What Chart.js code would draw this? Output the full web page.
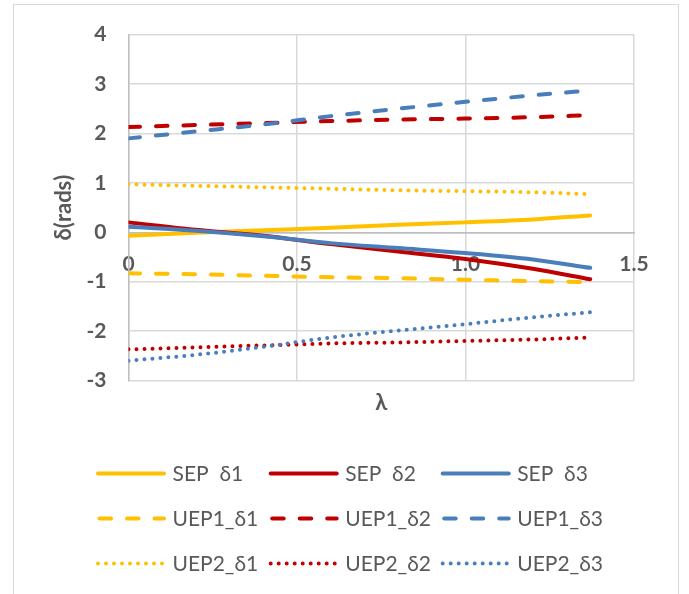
<!DOCTYPE html>
<html>
<head>
<meta charset="utf-8">
<script src="https://cdn.jsdelivr.net/npm/chart.js@4/dist/chart.umd.min.js"></script>
<style>
html,body{margin:0;padding:0;background:#fff;}
#wrap{position:relative;width:689px;height:594px;}
</style>
</head>
<body>
<div id="wrap"><canvas id="c" width="689" height="594"></canvas></div>
<script>
// ---- data ----
const lambdaValues = [0, 0.2, 0.4, 0.6, 0.8, 1.0, 1.2, 1.37];
const sepD1  = [-0.07, -0.01, 0.04, 0.09, 0.15, 0.20, 0.26, 0.34];
const sepD2  = [0.20, 0.05, -0.07, -0.24, -0.39, -0.54, -0.74, -0.95];
const sepD3  = [0.11, 0.03, -0.08, -0.22, -0.32, -0.42, -0.55, -0.72];
const uep1D1 = [-0.83, -0.85, -0.88, -0.91, -0.93, -0.96, -0.99, -1.01];
const uep1D2 = [2.13, 2.17, 2.21, 2.25, 2.28, 2.30, 2.33, 2.37];
const uep1D3 = [1.90, 2.04, 2.18, 2.35, 2.50, 2.64, 2.77, 2.87];
const uep2D1 = [0.97, 0.94, 0.91, 0.88, 0.85, 0.83, 0.81, 0.77];
const uep2D2 = [-2.37, -2.33, -2.29, -2.25, -2.23, -2.20, -2.17, -2.13];
const uep2D3 = [-2.60, -2.48, -2.32, -2.13, -1.99, -1.86, -1.72, -1.62];
const seriesNames = ['SEP  δ1','SEP  δ2','SEP  δ3','UEP1_δ1','UEP1_δ2','UEP1_δ3','UEP2_δ1','UEP2_δ2','UEP2_δ3'];
const seriesValues = [sepD1, sepD2, sepD3, uep1D1, uep1D2, uep1D3, uep2D1, uep2D2, uep2D3];
const xTicks = [0, 0.5, 1, 1.5];
const yTicks = [-3, -2, -1, 0, 1, 2, 3, 4];
const xTitle = 'λ';
const yTitle = 'δ(rads)';

// ---- styles ----
const colors = ['#FFC000', '#C00000', '#4A7EBB'];
const styles = [
  {dash: [], width: 4, cap: 'round'},
  {dash: [11.5, 16], width: 4, cap: 'round'},
  {dash: [0, 8], width: 4, cap: 'round'}
];
const gray = '#595959';
const fontFam = 'Lato, "Open Sans", "DejaVu Sans", sans-serif';

const datasets = seriesValues.map((vals, i) => {
  const st = styles[Math.floor(i / 3)];
  return {
    label: seriesNames[i],
    data: vals.map((v, k) => ({x: lambdaValues[k], y: v})),
    borderColor: colors[i % 3],
    backgroundColor: colors[i % 3],
    borderWidth: st.width,
    borderDash: st.dash,
    borderCapStyle: st.cap,
    borderJoinStyle: 'round',
    pointRadius: 0,
    pointHoverRadius: 0,
    fill: false,
    cubicInterpolationMode: 'monotone',
    order: -i
  };
});

const frameAndLegend = {
  id: 'frameAndLegend',
  beforeDraw(chart) {
    const ctx = chart.ctx;
    ctx.save();
    ctx.fillStyle = '#fff';
    ctx.fillRect(0, 0, chart.width, chart.height);
    ctx.strokeStyle = '#D9D9D9';
    ctx.lineWidth = 1;
    ctx.strokeRect(13.5, 4.5, 665, 600);
    ctx.restore();
  },
  afterDraw(chart) {
    const ctx = chart.ctx;
    const colX = [96, 268.7, 440.7];
    const rowY = [473.5, 518.5, 563.5];
    ctx.save();
    chart.data.datasets.forEach((ds, i) => {
      const c = i % 3, r = Math.floor(i / 3);
      const x = colX[c], y = rowY[r];
      ctx.strokeStyle = ds.borderColor;
      ctx.lineWidth = ds.borderWidth;
      ctx.lineCap = ds.borderCapStyle;
      ctx.setLineDash(ds.borderDash);
      ctx.lineDashOffset = (r === 1) ? -1.5 : 0;
      ctx.beginPath();
      ctx.moveTo(x + 2, y); ctx.lineTo(x + 68, y);
      ctx.stroke();
      ctx.setLineDash([]);
      ctx.lineDashOffset = 0;
      ctx.fillStyle = gray;
      ctx.font = '21px ' + fontFam;
      ctx.textBaseline = 'middle';
      ctx.textAlign = 'left';
      ctx.fillText(ds.label, x + 76.5, y + 1);
    });
    ctx.restore();
  }
};

new Chart(document.getElementById('c'), {
  type: 'line',
  data: {datasets},
  plugins: [frameAndLegend],
  options: {
    responsive: false,
    animation: false,
    events: [],
    layout: {padding: {left: 0, top: 33, right: 55, bottom: 177.8}},
    plugins: {legend: {display: false}, tooltip: {enabled: false}},
    scales: {
      x: {
        type: 'linear', position: 'bottom', min: 0, max: 1.5,
        afterBuildTicks: s => { s.ticks = xTicks.map(v => ({value: v})); },
        ticks: {display: false},
        grid: {color: '#D9D9D9', lineWidth: 1.5, drawTicks: false},
        border: {display: false},
        title: {display: true, text: xTitle, color: gray,
          font: {family: fontFam, size: 22, weight: 'bold'}, padding: {top: 9.3, bottom: 0}}
      },
      x2: {
        type: 'linear', axis: 'x', position: {y: 0}, min: 0, max: 1.5,
        afterBuildTicks: s => { s.ticks = xTicks.map(v => ({value: v})); },
        ticks: {color: gray, padding: 19, maxRotation: 0,
          font: {family: fontFam, size: 21, weight: 'bold'}},
        grid: {display: false, drawTicks: false},
        border: {display: true, color: '#BFBFBF', width: 1.5}
      },
      y: {
        type: 'linear', position: 'left', min: -3, max: 4,
        afterBuildTicks: s => { s.ticks = yTicks.map(v => ({value: v})); },
        afterFit: s => { s.width = 128.5; },
        ticks: {color: gray, padding: 22,
          font: {family: fontFam, size: 21, weight: 'bold'}},
        grid: {color: c => (c.tick && c.tick.value === 0) ? '#BFBFBF' : '#D9D9D9', lineWidth: 1.5, drawTicks: false},
        border: {display: true, color: '#BFBFBF', width: 1.5},
        title: {display: true, text: yTitle, color: gray,
          font: {family: fontFam, size: 22, weight: 'bold'}, padding: {top: 50.8, bottom: 0}}
      }
    }
  }
});
</script>
</body>
</html>
